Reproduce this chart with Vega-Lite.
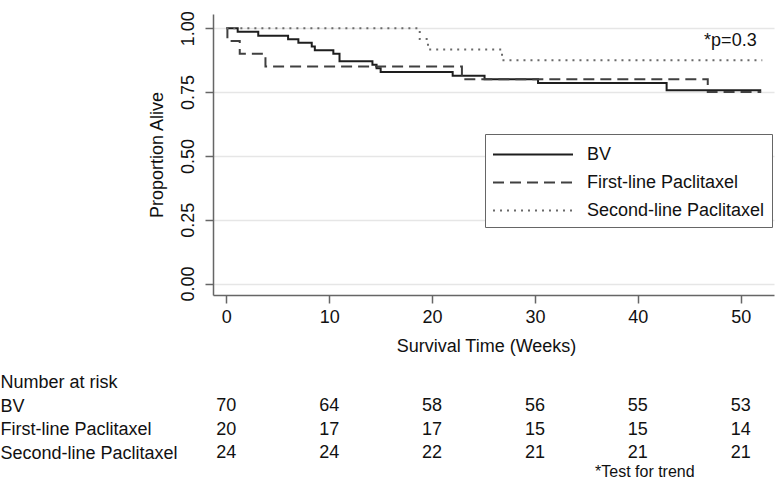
{
  "$schema": "https://vega.github.io/schema/vega-lite/v6.json",
  "autosize": {"type": "pad"},
  "padding": {"left": 0, "top": 10, "right": 10, "bottom": 0},
  "background": "white",
  "bounds": "flush",
  "spacing": 76,
  "config": {
    "font": "Liberation Sans",
    "view": {"stroke": null},
    "text": {"color": "#111"}
  },
  "datasets": {
    "km": [
      {"group": "BV", "week": 0, "surv": 1.0},
      {"group": "BV", "week": 1.1, "surv": 0.986},
      {"group": "BV", "week": 3.1, "surv": 0.971},
      {"group": "BV", "week": 6.0, "surv": 0.957},
      {"group": "BV", "week": 7.0, "surv": 0.943},
      {"group": "BV", "week": 8.3, "surv": 0.929},
      {"group": "BV", "week": 8.6, "surv": 0.914},
      {"group": "BV", "week": 10.4, "surv": 0.9},
      {"group": "BV", "week": 11.0, "surv": 0.871},
      {"group": "BV", "week": 14.2, "surv": 0.857},
      {"group": "BV", "week": 14.6, "surv": 0.843},
      {"group": "BV", "week": 15.0, "surv": 0.829},
      {"group": "BV", "week": 22.0, "surv": 0.814},
      {"group": "BV", "week": 25.1, "surv": 0.8},
      {"group": "BV", "week": 30.3, "surv": 0.786},
      {"group": "BV", "week": 42.8, "surv": 0.757},
      {"group": "BV", "week": 52.0, "surv": 0.757},
      {"group": "First-line Paclitaxel", "week": 0, "surv": 1.0},
      {"group": "First-line Paclitaxel", "week": 0.1, "surv": 0.95},
      {"group": "First-line Paclitaxel", "week": 1.3, "surv": 0.9},
      {"group": "First-line Paclitaxel", "week": 3.8, "surv": 0.85},
      {"group": "First-line Paclitaxel", "week": 22.9, "surv": 0.8},
      {"group": "First-line Paclitaxel", "week": 46.8, "surv": 0.75},
      {"group": "First-line Paclitaxel", "week": 52.0, "surv": 0.75},
      {"group": "Second-line Paclitaxel", "week": 0, "surv": 1.0},
      {"group": "Second-line Paclitaxel", "week": 18.8, "surv": 0.958},
      {"group": "Second-line Paclitaxel", "week": 19.6, "surv": 0.917},
      {"group": "Second-line Paclitaxel", "week": 26.8, "surv": 0.875},
      {"group": "Second-line Paclitaxel", "week": 52.1, "surv": 0.875}
    ],
    "risk": [
      {"row": "BV", "week": 0, "n": 70},
      {"row": "BV", "week": 10, "n": 64},
      {"row": "BV", "week": 20, "n": 58},
      {"row": "BV", "week": 30, "n": 56},
      {"row": "BV", "week": 40, "n": 55},
      {"row": "BV", "week": 50, "n": 53},
      {"row": "First-line Paclitaxel", "week": 0, "n": 20},
      {"row": "First-line Paclitaxel", "week": 10, "n": 17},
      {"row": "First-line Paclitaxel", "week": 20, "n": 17},
      {"row": "First-line Paclitaxel", "week": 30, "n": 15},
      {"row": "First-line Paclitaxel", "week": 40, "n": 15},
      {"row": "First-line Paclitaxel", "week": 50, "n": 14},
      {"row": "Second-line Paclitaxel", "week": 0, "n": 24},
      {"row": "Second-line Paclitaxel", "week": 10, "n": 24},
      {"row": "Second-line Paclitaxel", "week": 20, "n": 22},
      {"row": "Second-line Paclitaxel", "week": 30, "n": 21},
      {"row": "Second-line Paclitaxel", "week": 40, "n": 21},
      {"row": "Second-line Paclitaxel", "week": 50, "n": 21}
    ],
    "pnote": [{"week": 49, "surv": 0.95, "label": "*p=0.3"}],
    "tnote": [{"week": 40, "row": "Second-line Paclitaxel", "label": "*Test for trend"}]
  },
  "vconcat": [
    {
      "width": 561,
      "height": 281,
      "layer": [
        {
          "data": {"name": "km"},
          "mark": {"type": "line", "interpolate": "step-after", "strokeWidth": 2, "strokeCap": "butt"},
          "encoding": {
            "x": {
              "field": "week", "type": "quantitative",
              "scale": {"domain": [-1.3, 53.24], "nice": false, "zero": false},
              "axis": {
                "values": [0, 10, 20, 30, 40, 50], "grid": false,
                "tickSize": 8, "tickWidth": 1.5, "tickColor": "#666",
                "domainColor": "#666", "domainWidth": 1.5,
                "labelFontSize": 18, "labelPadding": 5, "labelColor": "#111",
                "title": "Survival Time (Weeks)", "titleFontSize": 18, "titleFontWeight": "normal",
                "titleColor": "#111", "titleX": 273, "titleY": 42, "titleBaseline": "top", "titleAlign": "center"
              }
            },
            "y": {
              "field": "surv", "type": "quantitative",
              "scale": {"domain": [-0.045, 1.056], "nice": false, "zero": false},
              "axis": {
                "values": [0, 0.25, 0.5, 0.75, 1], "format": ".2f",
                "grid": true, "gridColor": "#e6e6e6", "gridWidth": 1.5,
                "tickSize": 8, "tickWidth": 1.5, "tickColor": "#666",
                "domainColor": "#666", "domainWidth": 1.5,
                "labelFontSize": 18, "labelPadding": 8, "labelColor": "#111",
                "labelAngle": 270, "labelAlign": "center", "labelBaseline": "bottom",
                "title": "Proportion Alive", "titleFontSize": 18, "titleFontWeight": "normal",
                "titleColor": "#111", "titleX": -56, "titleY": 140.5, "titleAngle": 270,
                "titleBaseline": "middle", "titleAlign": "center"
              }
            },
            "stroke": {
              "field": "group", "type": "nominal",
              "scale": {"domain": ["BV", "First-line Paclitaxel", "Second-line Paclitaxel"], "range": ["#1e1e1e", "#404040", "#6a6a6a"]},
              "legend": {
                "title": null, "orient": "none", "legendX": 272, "legendY": 120,
                "fillColor": "white", "strokeColor": "#666", "padding": 7,
                "symbolType": "M-1,0H5.4", "symbolSize": 625, "symbolStrokeWidth": 2,
                "labelFontSize": 18, "labelColor": "#111", "labelOffset": 68, "labelLimit": 0,
                "rowPadding": 5
              }
            },
            "strokeDash": {
              "field": "group", "type": "nominal",
              "scale": {"domain": ["BV", "First-line Paclitaxel", "Second-line Paclitaxel"], "range": [[1, 0], [11, 6], [2, 5]]},
              "legend": {
                "title": null, "orient": "none", "legendX": 272, "legendY": 120,
                "fillColor": "white", "strokeColor": "#666", "padding": 7,
                "symbolType": "M-1,0H5.4", "symbolSize": 625, "symbolStrokeWidth": 2,
                "labelFontSize": 18, "labelColor": "#111", "labelOffset": 68, "labelLimit": 0,
                "rowPadding": 5
              }
            }
          }
        },
        {
          "data": {"name": "pnote"},
          "mark": {"type": "text", "fontSize": 18, "align": "center", "baseline": "middle"},
          "encoding": {
            "x": {"field": "week", "type": "quantitative"},
            "y": {"field": "surv", "type": "quantitative"},
            "text": {"field": "label"}
          }
        }
      ]
    },
    {
      "width": 561,
      "height": 94,
      "layer": [
        {
          "data": {"name": "risk"},
          "mark": {"type": "text", "fontSize": 18, "align": "center", "baseline": "middle"},
          "encoding": {
            "x": {
              "field": "week", "type": "quantitative",
              "scale": {"domain": [-1.3, 53.24], "nice": false, "zero": false},
              "axis": null
            },
            "y": {
              "field": "row", "type": "nominal",
              "scale": {"domain": ["Number at risk", "BV", "First-line Paclitaxel", "Second-line Paclitaxel"]},
              "axis": {
                "title": null, "domain": false, "ticks": false, "tickSize": 0, "grid": false,
                "labelAlign": "left", "labelBaseline": "middle", "labelPadding": 213,
                "labelFontSize": 18, "labelColor": "#111", "labelLimit": 0
              }
            },
            "text": {"field": "n", "type": "quantitative"}
          }
        },
        {
          "data": {"name": "tnote"},
          "mark": {"type": "text", "fontSize": 16, "align": "center", "baseline": "middle", "dx": 7, "dy": 18.5},
          "encoding": {
            "x": {"field": "week", "type": "quantitative"},
            "y": {"field": "row", "type": "nominal"},
            "text": {"field": "label"}
          }
        }
      ]
    }
  ]
}
